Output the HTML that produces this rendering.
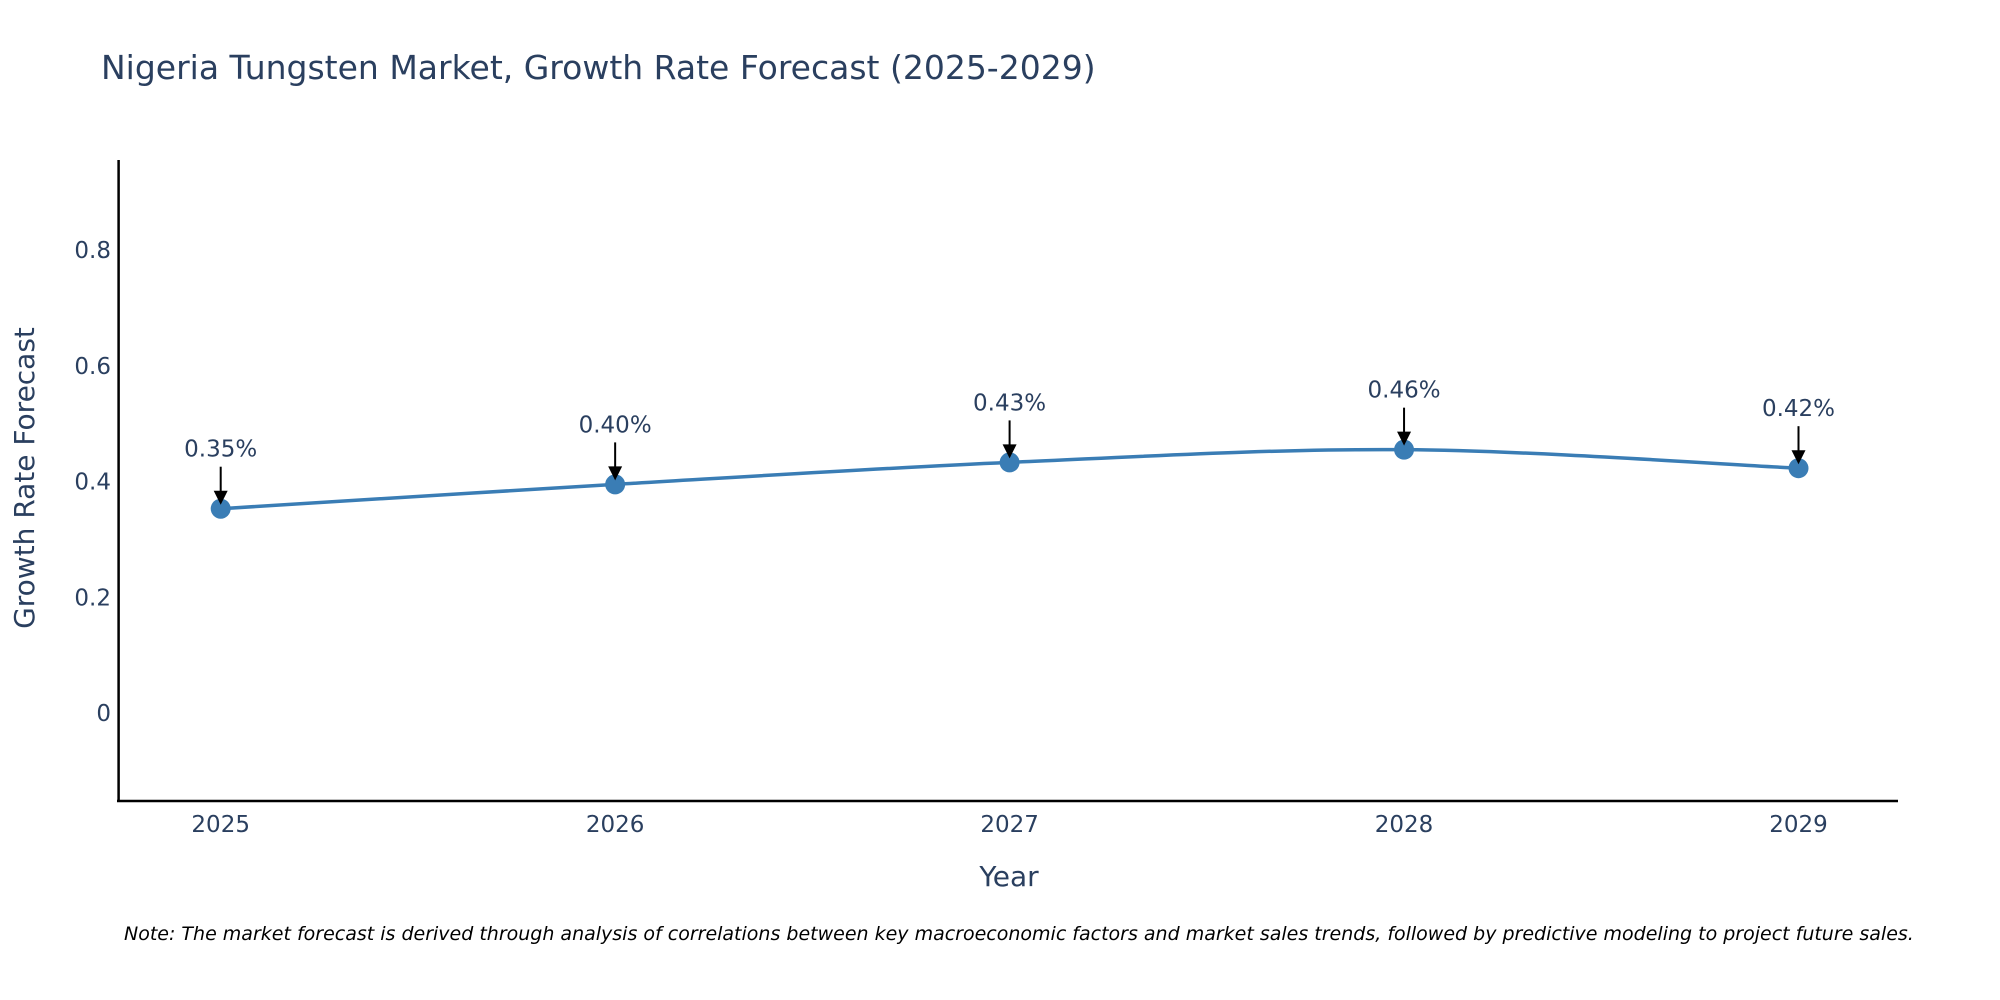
<!DOCTYPE html>
<html><head><meta charset="utf-8"><style>
body{margin:0;background:#fff;}
svg{display:block;font-family:"DejaVu Sans","Liberation Sans",sans-serif;}
</style></head><body>
<svg id="chart" width="2000" height="1000" xmlns="http://www.w3.org/2000/svg">
<rect width="2000" height="1000" fill="#fff"/>
<text x="101" y="79" font-size="33" fill="#2a3f5f">Nigeria Tungsten Market, Growth Rate Forecast (2025-2029)</text>
<g id="yticks"></g>
<g id="xticks"></g>
<line x1="118.6" y1="160" x2="118.6" y2="802" stroke="#000" stroke-width="2.5"/>
<line x1="117" y1="801" x2="1898" y2="801" stroke="#000" stroke-width="2.5"/>
<text transform="translate(34,478) rotate(-90)" text-anchor="middle" font-size="28" fill="#2a3f5f">Growth Rate Forecast</text>
<text x="1009" y="886" text-anchor="middle" font-size="28" fill="#2a3f5f">Year</text>
<g id="series"></g>
<g id="annots"></g>
<text x="124" y="940" font-size="19" font-style="italic" fill="#000">Note: The market forecast is derived through analysis of correlations between key macroeconomic factors and market sales trends, followed by predictive modeling to project future sales.</text>
</svg>
<script>
const years = [2025, 2026, 2027, 2028, 2029];
const values = [0.353, 0.395, 0.433, 0.455, 0.423];
const valueLabels = ["0.35%", "0.40%", "0.43%", "0.46%", "0.42%"];
const yTicks = [0, 0.2, 0.4, 0.6, 0.8];
const yTickLabels = ["0", "0.2", "0.4", "0.6", "0.8"];

const NS = "http://www.w3.org/2000/svg";
function xScale(yr){ return 220.7 + (yr - 2025) * 394.45; }
function yScale(v){ return 713 - v * 578.75; }
function mk(tag, attrs, parent){
  const e = document.createElementNS(NS, tag);
  for (const k in attrs) e.setAttribute(k, attrs[k]);
  parent.appendChild(e); return e;
}
const yt = document.getElementById('yticks');
yTicks.forEach((v, i) => {
  const t = mk('text', {x:111, y:yScale(v)+8, 'text-anchor':'end', 'font-size':23, fill:'#2a3f5f'}, yt);
  
  
  t.textContent = yTickLabels[i];
});
const xt = document.getElementById('xticks');
years.forEach(yr => {
  const t = mk('text', {x:xScale(yr), y:832, 'text-anchor':'middle', 'font-size':23, fill:'#2a3f5f'}, xt);
  
  
  t.textContent = String(yr);
});
const pts = years.map((yr, i) => [xScale(yr), yScale(values[i])]);
let d = `M${pts[0][0]},${pts[0][1]}`;
for (let i = 0; i < pts.length - 1; i++) {
  const p0 = pts[i-1] || pts[i], p1 = pts[i], p2 = pts[i+1], p3 = pts[i+2] || p2;
  const s = 6;
  d += ` C${p1[0]+(p2[0]-p0[0])/s},${p1[1]+(p2[1]-p0[1])/s} ${p2[0]-(p3[0]-p1[0])/s},${p2[1]-(p3[1]-p1[1])/s} ${p2[0]},${p2[1]}`;
}
const sg = document.getElementById('series');
const line = mk('path', {d, fill:'none', stroke:'#3a7db5', 'stroke-width':3.5}, sg);


pts.forEach(p => {
  const c = mk('circle', {cx:p[0], cy:p[1], r:10, fill:'#3a7db5'}, sg);
  
  
});
const ag = document.getElementById('annots');
pts.forEach((p, i) => {
  const l = mk('line', {x1:p[0], y1:p[1]-42, x2:p[0], y2:p[1]-16, stroke:'#000', 'stroke-width':2}, ag);
  
  
  const h = mk('path', {d:`M${p[0]-7},${p[1]-18} L${p[0]+7},${p[1]-18} L${p[0]},${p[1]-4} Z`, fill:'#000'}, ag);
  
  
  const t = mk('text', {x:p[0], y:p[1]-52, 'text-anchor':'middle', 'font-size':23, fill:'#2a3f5f'}, ag);
  
  
  t.textContent = valueLabels[i];
});
</script>
</body></html>
